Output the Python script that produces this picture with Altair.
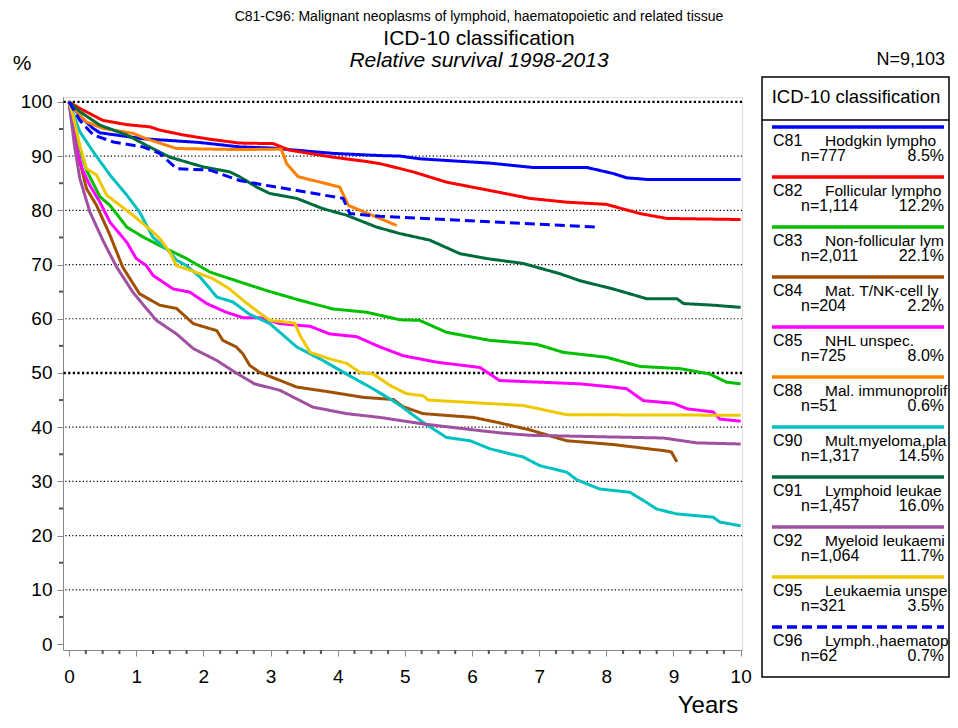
import altair as alt
import pandas as pd

FONT = "Liberation Sans, Arial, sans-serif"

# ---------------- data ----------------
codes = ["C81", "C82", "C83", "C84", "C85", "C88", "C90", "C91", "C92", "C95", "C96"]
names = ["Hodgkin lympho", "Follicular lympho", "Non-follicular lym", "Mat. T/NK-cell ly",
         "NHL unspec.", "Mal. immunoprolif", "Mult.myeloma,pla", "Lymphoid leukae",
         "Myeloid leukaemi", "Leukaemia unspe", "Lymph.,haematop"]
counts = ["n=777", "n=1,114", "n=2,011", "n=204", "n=725", "n=51", "n=1,317",
          "n=1,457", "n=1,064", "n=321", "n=62"]
shares = ["8.5%", "12.2%", "22.1%", "2.2%", "8.0%", "0.6%", "14.5%", "16.0%",
          "11.7%", "3.5%", "0.7%"]
colors = ["#0000FF", "#FF0000", "#00C000", "#A05000", "#FF00FF", "#FF8000",
          "#00C0C0", "#006B3C", "#A050A0", "#F0C800", "#0000FF"]
dashes = [[1, 0]] * 10 + [[10, 5]]

c81_years = [0, 0.15, 0.36, 0.46, 1.1, 1.84, 1.95, 2.54, 3.0, 3.93, 4.63, 4.93, 5.22, 6.27, 6.91, 7.71, 8.1, 8.3, 8.6, 10]
c81_surv = [100, 97.5, 95.1, 94.3, 93.2, 92.6, 92.5, 91.7, 91.5, 90.5, 90.1, 90.0, 89.5, 88.7, 87.9, 87.9, 86.8, 86.0, 85.7, 85.7]

c82_years = [0, 0.16, 0.5, 0.86, 1.2, 1.35, 1.7, 2.1, 2.54, 3.04, 3.28, 3.93, 4.43, 4.63, 4.93, 5.12, 5.62, 6.37, 6.86, 7.41, 8.0, 8.5, 8.9, 10]
c82_surv = [100, 98.8, 96.6, 95.8, 95.4, 94.8, 93.9, 93.1, 92.4, 92.3, 91.1, 89.8, 89.0, 88.6, 87.7, 87.1, 85.2, 83.4, 82.2, 81.5, 81.1, 79.4, 78.5, 78.3]

c83_years = [0, 0.12, 0.26, 0.46, 0.61, 0.86, 1.1, 1.35, 1.75, 2.1, 2.54, 2.94, 3.44, 3.93, 4.43, 4.93, 5.22, 5.62, 6.27, 6.96, 7.36, 8.0, 8.5, 9.1, 9.54, 9.79, 10]
c83_surv = [100, 93, 87.4, 82.5, 80.9, 76.9, 75.1, 73.5, 71.1, 68.6, 66.8, 65.2, 63.4, 61.8, 61.2, 59.8, 59.7, 57.5, 56.0, 55.3, 53.8, 52.9, 51.2, 50.8, 49.8, 48.3, 48.0]

c84_years = [0, 0.1, 0.26, 0.41, 0.61, 0.8, 1.05, 1.35, 1.6, 1.85, 2.2, 2.29, 2.49, 2.59, 2.69, 2.84, 3.39, 3.88, 4.38, 4.83, 4.97, 5.27, 6.02, 6.37, 6.86, 7.41, 8.1, 8.9, 8.97, 9.05]
c84_surv = [100, 92, 84.0, 80.9, 75.4, 69.5, 64.6, 62.5, 61.9, 59.1, 57.8, 56.0, 54.8, 53.5, 51.4, 50.1, 47.4, 46.5, 45.5, 45.1, 43.8, 42.5, 41.8, 40.9, 39.5, 37.5, 36.8, 35.6, 35.4, 33.6]

c85_years = [0, 0.1, 0.2, 0.31, 0.46, 0.61, 0.86, 1.0, 1.15, 1.25, 1.55, 1.8, 2.05, 2.34, 2.59, 2.84, 3.14, 3.59, 3.88, 4.28, 4.63, 4.97, 5.47, 6.12, 6.41, 7.6, 8.1, 8.3, 8.55, 9.0, 9.2, 9.59, 9.69, 10]
c85_surv = [100, 92, 87.5, 84.6, 81.5, 77.8, 74.1, 71.1, 69.8, 68.0, 65.5, 64.9, 62.8, 61.2, 60.2, 60.2, 59.1, 58.6, 57.2, 56.7, 54.8, 53.2, 52.0, 51.0, 48.6, 48.0, 47.4, 47.1, 44.9, 44.4, 43.4, 42.8, 41.5, 41.1]

c88_years = [0, 0.16, 0.26, 0.51, 0.95, 1.15, 1.6, 2.54, 3.16, 3.24, 3.41, 4.03, 4.16, 4.88]
c88_surv = [100, 97.5, 96.3, 95.1, 94.2, 93.2, 91.4, 91.2, 91.3, 88.6, 86.2, 84.3, 80.9, 77.2]

c90_years = [0, 0.16, 0.36, 0.61, 0.86, 1.05, 1.25, 1.45, 1.6, 1.75, 1.95, 2.1, 2.2, 2.44, 2.69, 2.99, 3.39, 3.78, 4.13, 4.48, 4.78, 4.93, 5.27, 5.62, 5.97, 6.27, 6.76, 7.01, 7.41, 7.56, 7.9, 8.35, 8.6, 8.75, 9.05, 9.59, 9.69, 10]
c90_surv = [100, 94.5, 90.8, 86.5, 82.8, 79.7, 75.0, 72.9, 70.8, 69.8, 67.7, 65.5, 64.0, 63.1, 60.8, 59.1, 54.8, 52.3, 49.8, 47.4, 45.2, 44.0, 40.9, 38.1, 37.5, 36.0, 34.5, 32.9, 31.7, 30.3, 28.6, 28.0, 26.1, 24.9, 24.0, 23.4, 22.5, 21.8]

c91_years = [0, 0.16, 0.46, 0.86, 1.15, 1.5, 2.0, 2.39, 2.54, 2.79, 2.99, 3.39, 3.78, 4.13, 4.58, 4.93, 5.37, 5.82, 6.22, 6.76, 7.31, 7.61, 8.1, 8.6, 9.05, 9.15, 9.59, 10]
c91_surv = [100, 98.2, 95.7, 93.9, 92.0, 89.8, 88.0, 87.1, 86.2, 84.3, 83.1, 82.2, 80.3, 79.1, 76.9, 75.7, 74.5, 72.0, 71.1, 70.2, 68.3, 67.0, 65.5, 63.7, 63.7, 62.8, 62.5, 62.1]

c92_years = [0, 0.05, 0.08, 0.16, 0.31, 0.51, 0.71, 0.95, 1.05, 1.3, 1.6, 1.85, 2.2, 2.45, 2.76, 3.14, 3.63, 4.13, 4.63, 5.27, 6.02, 6.46, 6.86, 8.85, 9.35, 10]
c92_surv = [100, 95, 92, 85.9, 79.7, 74.3, 69.5, 64.9, 63.4, 59.7, 57.2, 54.5, 52.3, 50.3, 48.0, 46.8, 43.7, 42.5, 41.8, 40.6, 39.5, 38.9, 38.5, 38.0, 37.1, 36.9]

c95_years = [0, 0.06, 0.16, 0.26, 0.41, 0.56, 0.76, 0.95, 1.25, 1.35, 1.5, 1.6, 1.95, 2.14, 2.39, 2.59, 2.79, 2.99, 3.36, 3.44, 3.59, 3.88, 4.13, 4.33, 4.53, 4.78, 5.02, 5.27, 5.35, 6.76, 7.41, 10]
c95_surv = [100, 97.5, 92, 87.7, 86.5, 82.8, 80.9, 79.1, 76.0, 74.8, 72.3, 69.8, 68.3, 67.4, 65.5, 63.4, 61.5, 59.7, 59.2, 56.9, 53.8, 52.6, 51.8, 50.1, 49.8, 47.7, 46.2, 45.8, 45.0, 44.0, 42.3, 42.2]

c96_years = [0, 0.16, 0.36, 0.66, 1.1, 1.35, 1.6, 2.1, 2.54, 2.94, 4.08, 4.18, 4.63, 7.9]
c96_surv = [100, 96.6, 93.9, 92.6, 91.7, 90.5, 87.7, 87.4, 85.5, 84.6, 82.2, 79.4, 78.9, 76.9]

series = {
    "C81": (c81_years, c81_surv), "C82": (c82_years, c82_surv), "C83": (c83_years, c83_surv),
    "C84": (c84_years, c84_surv), "C85": (c85_years, c85_surv), "C88": (c88_years, c88_surv),
    "C90": (c90_years, c90_surv), "C91": (c91_years, c91_surv), "C92": (c92_years, c92_surv),
    "C95": (c95_years, c95_surv), "C96": (c96_years, c96_surv),
}

y_ticks = [0, 10, 20, 30, 40, 50, 60, 70, 80, 90, 100]
x_ticks = [0, 1, 2, 3, 4, 5, 6, 7, 8, 9, 10]
grid_light = [10, 20, 30, 40, 60, 70, 80, 90]
grid_heavy = [50, 100]
y_minor = [5, 15, 25, 35, 45, 55, 65, 75, 85, 95]
x_minor = [q / 4 for q in range(1, 40) if q % 4 != 0]

title_1 = "C81-C96: Malignant neoplasms of lymphoid, haematopoietic and related tissue"
title_2 = "ICD-10 classification"
title_3 = "Relative survival 1998-2013"
total_n = "N=9,103"
legend_title = "ICD-10 classification"

# ---------------- tables ----------------
rows = []
for i, c in enumerate(codes):
    ys, vs = series[c]
    for k, (a, b) in enumerate(zip(ys, vs)):
        rows.append({"code": c, "order": i, "k": k, "year": a, "surv": b})
df = pd.DataFrame(rows)
leg = pd.DataFrame({"code": codes, "name": names, "n": counts, "pct": shares})

W, H = 679, 553
xs = alt.Scale(domain=[-0.09, 10.02], nice=False, zero=False)
ys_ = alt.Scale(domain=[-1.1, 100.9], nice=False, zero=False)
color_scale = alt.Scale(domain=codes, range=colors)
dash_scale = alt.Scale(domain=codes, range=dashes)

AX = "#555555"

base_axis_chart = alt.Chart(pd.DataFrame({"v": [0]})).mark_point(opacity=0).encode(
    x=alt.X("v:Q", scale=xs, axis=alt.Axis(values=x_ticks, title=None, format="d",
            labelFontSize=19, labelPadding=11, tickSize=6, grid=False)),
    y=alt.Y("v:Q", scale=ys_, axis=alt.Axis(values=y_ticks, title=None, format="d",
            labelFontSize=19, labelPadding=5, tickSize=6, grid=False)),
)

g_light = alt.Chart(pd.DataFrame({"g": grid_light})).mark_rule(
    color="black", strokeWidth=1.2, strokeDash=[1.2, 2.3]).encode(y=alt.Y("g:Q", scale=ys_))
g_heavy = alt.Chart(pd.DataFrame({"g": grid_heavy})).mark_rule(
    color="black", strokeWidth=2.4, strokeDash=[2.2, 2.4]).encode(y=alt.Y("g:Q", scale=ys_))

ymin = alt.Chart(pd.DataFrame({"m": y_minor})).mark_rule(color=AX, strokeWidth=2).encode(
    y=alt.Y("m:Q", scale=ys_), x=alt.value(-4), x2=alt.value(0))
xmin = alt.Chart(pd.DataFrame({"m": x_minor})).mark_rule(color=AX, strokeWidth=2).encode(
    x=alt.X("m:Q", scale=xs), y=alt.value(H), y2=alt.value(H + 4))

lines = alt.Chart(df).mark_line(strokeWidth=3, clip=True).encode(
    x=alt.X("year:Q", scale=xs),
    y=alt.Y("surv:Q", scale=ys_),
    color=alt.Color("code:N", scale=color_scale, legend=None),
    strokeDash=alt.StrokeDash("code:N", scale=dash_scale, legend=None),
    detail="code:N",
    order="k:Q",
)

def txt(text, x, y, size, align="center", style="normal", baseline="middle"):
    return alt.Chart(pd.DataFrame({"t": [text]})).mark_text(
        font=FONT, fontSize=size, align=align, baseline=baseline, fontStyle=style, color="black"
    ).encode(text="t:N", x=alt.value(x), y=alt.value(y))

titles = alt.layer(
    txt(title_1, 416, -80, 14),
    txt(title_2, 416, -58, 21),
    txt(title_3, 416, -36, 21, style="italic"),
    txt("%", -41, -33, 21),
    txt(total_n, 882, -37, 18, align="right"),
    txt("Years", 645, 616, 24, baseline="alphabetic"),
)

main = alt.layer(base_axis_chart, g_light, g_heavy, ymin, xmin, lines, titles)

# ---------------- legend ----------------
leg_y = alt.Y("code:N", scale=alt.Scale(type="point", domain=codes, range=[30, 530], padding=0), axis=None)

box = alt.Chart(pd.DataFrame({"b": [0]})).mark_rect(
    fill="white", stroke="black", strokeWidth=1.5).encode(
    x=alt.value(699), x2=alt.value(886), y=alt.value(-20), y2=alt.value(580))
sep = alt.Chart(pd.DataFrame({"b": [0]})).mark_rule(color="black", strokeWidth=1.5).encode(
    x=alt.value(699), x2=alt.value(886), y=alt.value(23))
leg_head = txt(legend_title, 793, 0, 18.5)

leg_rules = alt.Chart(leg).mark_rule(strokeWidth=3.5).encode(
    y=leg_y, x=alt.value(709), x2=alt.value(881),
    color=alt.Color("code:N", scale=color_scale, legend=None),
    strokeDash=alt.StrokeDash("code:N", scale=dash_scale, legend=None),
)
def leg_text(field, x, dy, align, size=16):
    return alt.Chart(leg).mark_text(font=FONT, fontSize=size, align=align, baseline="middle",
                                    dy=dy, color="black").encode(
        y=leg_y, x=alt.value(x), text=f"{field}:N")

legend = alt.layer(box, sep, leg_head, leg_rules,
                   leg_text("code", 710, 14, "left"),
                   leg_text("name", 762, 14, "left", 15.5),
                   leg_text("n", 738, 29, "left"),
                   leg_text("pct", 881, 29, "right"))

chart = alt.layer(main, legend).resolve_scale(y="independent").properties(
    width=W, height=H,
    padding={"left": 55, "top": 89, "right": 208, "bottom": 70},
    autosize=alt.AutoSizeParams(type="none"),
).configure_view(strokeWidth=0).configure_axis(
    domainColor=AX, domainWidth=2.5, tickColor=AX, tickWidth=2,
    labelFont=FONT, labelColor="black",
).configure(background="white")

chart.save("out.html", embed_options={"renderer": "svg", "actions": False})
